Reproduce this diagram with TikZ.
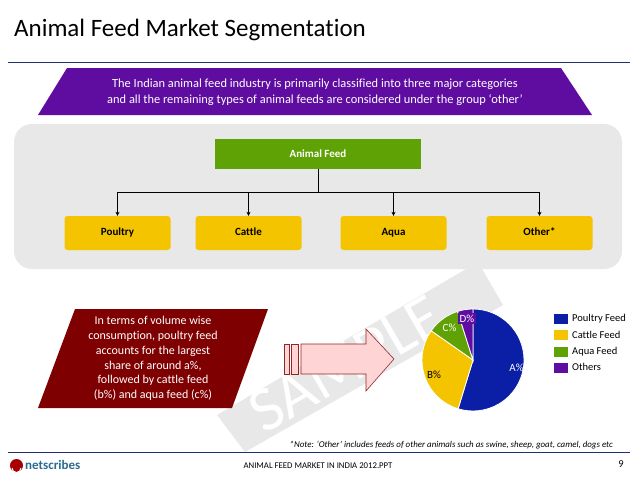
\documentclass[tikz,border=0pt]{standalone}
\usepackage{fontspec}
\setmainfont{Carlito}[Ligatures=NoCommon]
\usepackage{tikz}
\usetikzlibrary{arrows.meta}
\definecolor{navyfeed}{HTML}{0A1FA5}
\definecolor{yellowfeed}{HTML}{F5C400}
\definecolor{greenfeed}{HTML}{5FA205}
\definecolor{purplefeed}{HTML}{5F0CA0}
\definecolor{maroonbox}{HTML}{7F0000}
\definecolor{panelgray}{HTML}{E8E8E8}
\definecolor{rulenavy}{HTML}{1F2F75}
\definecolor{logoblue}{HTML}{2A6C8F}
\tikzset{
  catbox/.style = {fill=yellowfeed, rounded corners=3pt, minimum width=106pt, minimum height=34pt, inner sep=0pt, text height=7.5pt, text depth=2.5pt, font=\fontsize{11}{13}\selectfont\bfseries},
  feedline/.style = {-{Stealth[length=4pt,width=4pt]}, line width=0.6pt},
  keybox/.style = {minimum width=14pt, minimum height=10pt, inner sep=0pt},
  keytext/.style = {anchor=west, inner sep=0pt, text height=7.5pt, text depth=2.5pt, font=\fontsize{10.5}{12}\selectfont},
  pielabel/.style = {inner sep=0pt, font=\fontsize{11}{12}\selectfont},
  slice/.style = {draw=white, line width=0.8pt}
}
\begin{document}
\begin{tikzpicture}[x = 1pt, y = -1pt]
\useasboundingbox (0, 0) rectangle (638, 479);
\fill[white] (0, 0) rectangle (638, 479);
\fill[panelgray] (217, 415) -- (245, 452) -- (503, 305) -- (478, 262) -- cycle;
\node[white, rotate = 30, font = \fontsize{64}{64}\selectfont] (mark) at (346, 364) {SAMPLE};
\node[anchor = west, inner sep = 0pt, font = \fontsize{25}{28}\selectfont] (title) at (14, 30) {Animal Feed Market Segmentation};
\draw[rulenavy, line width = 1pt] (8, 62.5) -- (630, 62.5);
\fill[purplefeed] (67, 68) -- (561, 68) -- (592, 115) -- (38, 115) -- cycle;
\node[white, align = center, inner sep = 0pt, font = \fontsize{12.4}{15.5}\selectfont] (intro) at (315, 92.5) {The Indian animal feed industry is primarily classified into three major categories\\and all the remaining types of animal feeds are considered under the group ‘other’};
\fill[panelgray, rounded corners = 18pt] (14, 124) rectangle (622, 269);
\node[fill = greenfeed, text = white, minimum width = 206pt, minimum height = 30pt, inner sep = 0pt, font = \fontsize{11}{13}\selectfont\bfseries] (feed) at (318, 154) {Animal Feed};
\node[catbox] (poultry) at (117.5, 233) {Poultry};
\node[catbox] (cattle) at (248.5, 233) {Cattle};
\node[catbox] (aqua) at (393.5, 233) {Aqua};
\node[catbox] (other) at (539.5, 233) {Other*};
\coordinate (bus) at (318, 192);
\draw[line width = 0.6pt] (feed.south) -- (bus);
\draw[feedline] (bus) -| (poultry.north);
\draw[feedline] (bus) -| (cattle.north);
\draw[feedline] (bus) -| (aqua.north);
\draw[feedline] (bus) -| (other.north);
\fill[maroonbox] (75, 309) -- (268, 309) -- (232, 408) -- (38, 408) -- cycle;
\node[white, align = center, inner sep = 0pt, font = \fontsize{12}{14.7}\selectfont] (share) at (153, 358.5) {In terms of volume wise\\consumption, poultry feed\\accounts for the largest\\share of around a\%,\\followed by cattle feed\\(b\%) and aqua feed (c\%)};
\draw[fill = red!17, draw = maroonbox!85, line width = 0.6pt] (284, 344) rectangle (289, 374);
\draw[fill = red!17, draw = maroonbox!85, line width = 0.6pt] (291, 344) rectangle (298, 374);
\draw[fill = red!17, draw = maroonbox!85, line width = 0.6pt] (301, 344) -- (366, 344) -- (366, 329) -- (394, 359) -- (366, 391) -- (366, 374) -- (301, 374) -- cycle;
\begin{scope}[shift = {(473, 360)}, y = 1pt]
\draw[slice, fill = navyfeed] (0, 0) -- (90:51) arc (90:-107:51) -- cycle;
\draw[slice, fill = yellowfeed] (0, 0) -- (253:51) arc (253:145:51) -- cycle;
\draw[slice, fill = greenfeed] (0, 0) -- (145:51) arc (145:107.6:51) -- cycle;
\draw[slice, fill = purplefeed] (0, 0) -- (107.6:51) arc (107.6:90:51) -- cycle;
\end{scope}
\node[pielabel, white] (lblA) at (516.5, 368) {A\%};
\node[pielabel] (lblB) at (434, 374.5) {B\%};
\node[pielabel, white] (lblC) at (449.5, 327.5) {C\%};
\node[pielabel, text = white, fill = purplefeed, inner sep = 1.5pt] (lblD) at (467, 318.5) {D\%};
\node[keybox, fill = navyfeed] (key1) at (561, 319) {};
\node[keybox, fill = yellowfeed] (key2) at (561, 335) {};
\node[keybox, fill = greenfeed] (key3) at (561, 352) {};
\node[keybox, fill = purplefeed] (key4) at (561, 368) {};
\node[keytext] (txt1) at (572, 319) {Poultry Feed};
\node[keytext] (txt2) at (572, 335.5) {Cattle Feed};
\node[keytext] (txt3) at (572, 352) {Aqua Feed};
\node[keytext] (txt4) at (572, 368) {Others};
\node[anchor = east, inner sep = 0pt, font = \fontsize{8.9}{11}\selectfont\itshape] (note) at (613, 445) {*Note: ‘Other’ includes feeds of  other animals such as swine, sheep, goat, camel, dogs etc};
\draw[rulenavy, line width = 1pt] (8, 452) -- (630, 452);
\fill[red!65!black] (16.5, 465.5) circle (6.5);
\draw[white, line width = 1pt] (12, 468) arc (180:0:4.5);
\node[anchor = west, inner sep = 0pt, text = logoblue, font = \fontsize{13}{14}\selectfont\bfseries] (logo) at (25, 464.5) {netscribes};
\node[inner sep = 0pt, font = \fontsize{8.75}{11}\selectfont] (file) at (318, 466) {ANIMAL FEED MARKET IN INDIA 2012.PPT};
\node[inner sep = 0pt, font = \fontsize{10.5}{12}\selectfont] (page) at (621, 464) {9};
\end{tikzpicture}
\end{document}
